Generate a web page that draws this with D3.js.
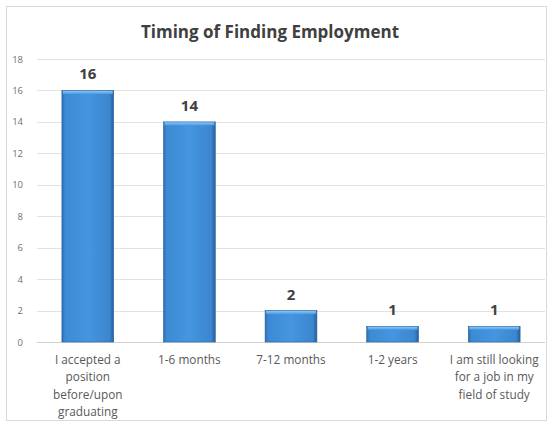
<!DOCTYPE html>
<html>
<head>
<meta charset="utf-8">
<script src="https://cdn.jsdelivr.net/npm/d3@7"></script>
<style>
  body { margin: 0; background: #fff; }
  svg { font-family: "Open Sans", "DejaVu Sans", sans-serif; }
</style>
</head>
<body>
<script>
// chart data
var categories = [
  "I accepted a position before/upon graduating",
  "1-6 months",
  "7-12 months",
  "1-2 years",
  "I am still looking for a job in my field of study"
];
var categoryLines = [
  ["I accepted a", "position", "before/upon", "graduating"],
  ["1-6 months"],
  ["7-12 months"],
  ["1-2 years"],
  ["I am still looking", "for a job in my", "field of study"]
];
var counts = [16, 14, 2, 1, 1];
var yTicks = [0, 2, 4, 6, 8, 10, 12, 14, 16, 18];

var svgWidth = 550, svgHeight = 426;
var margin = {top: 59, right: 5, bottom: 84, left: 37};
var width = svgWidth - margin.left - margin.right,
    height = svgHeight - margin.top - margin.bottom;

var svg = d3.select("body").append("svg")
    .attr("width", svgWidth).attr("height", svgHeight);

// outer frame
svg.append("rect")
    .attr("x", 6.5).attr("y", 6.5)
    .attr("width", 540).attr("height", 414)
    .attr("fill", "#fff").attr("stroke", "#d9d9d9");

// bar gradient
var defs = svg.append("defs");
var grad = defs.append("linearGradient").attr("id", "barGrad")
    .attr("x1", "0%").attr("x2", "100%").attr("y1", "0%").attr("y2", "0%");
grad.append("stop").attr("offset", "0%").attr("stop-color", "#2b6cab");
grad.append("stop").attr("offset", "6%").attr("stop-color", "#3c8ad4");
grad.append("stop").attr("offset", "50%").attr("stop-color", "#4595e0");
grad.append("stop").attr("offset", "92%").attr("stop-color", "#3c86cf");
grad.append("stop").attr("offset", "100%").attr("stop-color", "#255f98");

var topGrad = defs.append("linearGradient").attr("id", "topGrad")
    .attr("x1", "0%").attr("x2", "0%").attr("y1", "0%").attr("y2", "100%");
topGrad.append("stop").attr("offset", "0%").attr("stop-color", "#8cc6f5");
topGrad.append("stop").attr("offset", "100%").attr("stop-color", "#4a9be3");

var chartGroup = svg.append("g")
    .attr("transform", `translate(${margin.left},${margin.top})`);

var xScale = d3.scaleBand().domain(categories).range([0, width]).paddingInner(0.49).paddingOuter(0.245);
var yScale = d3.scaleLinear().domain([0, 18]).range([height, 0]);

// gridlines
chartGroup.selectAll(".grid")
    .data(yTicks)
  .enter().append("line")
    .attr("x1", 0).attr("x2", width)
    .attr("y1", d => Math.round(yScale(d)) + 0.5)
    .attr("y2", d => Math.round(yScale(d)) + 0.5)
    .attr("stroke", d => d === 0 ? "#d0d0d0" : "#e3e3e3");

// y axis labels
var yAxis = d3.axisLeft(yScale).tickValues(yTicks).tickSize(0).tickPadding(14);
var yg = chartGroup.append("g").call(yAxis);
yg.select(".domain").remove();
yg.selectAll("text").attr("fill", "#707070").style("font-size", "9.5px")
    .style("font-family", "'Open Sans', sans-serif");

// bars
var bars = chartGroup.selectAll(".bar")
    .data(counts)
  .enter().append("g").attr("class", "bar");

bars.append("rect")
    .attr("x", (d, i) => xScale(categories[i]))
    .attr("y", d => yScale(d))
    .attr("width", xScale.bandwidth())
    .attr("height", d => height - yScale(d))
    .attr("fill", "url(#barGrad)")
    .attr("stroke", "#2a64a0").attr("stroke-width", 0.6);

bars.append("rect")
    .attr("x", (d, i) => xScale(categories[i]) + 1)
    .attr("y", d => yScale(d) + 0.5)
    .attr("width", xScale.bandwidth() - 2)
    .attr("height", 3)
    .attr("fill", "url(#topGrad)");

// value labels
bars.append("text")
    .attr("x", (d, i) => xScale(categories[i]) + xScale.bandwidth() / 2)
    .attr("y", d => yScale(d) - 11)
    .attr("text-anchor", "middle")
    .attr("fill", "#404040")
    .style("font-size", "15px").style("font-weight", "bold")
    .text(d => d);

// category labels
var catGroup = chartGroup.selectAll(".cat")
    .data(categoryLines)
  .enter().append("text")
    .attr("class", "cat")
    .attr("text-anchor", "middle")
    .attr("fill", "#595959")
    .style("font-size", "11.8px");

catGroup.selectAll("tspan")
    .data((d, i) => d.map(t => ({t: t, i: i})))
  .enter().append("tspan")
    .attr("x", d => xScale(categories[d.i]) + xScale.bandwidth() / 2)
    .attr("y", (d, j) => height + 22 + j * 17.3)
    .text(d => d.t);

// title
svg.append("text")
    .attr("x", 270).attr("y", 38)
    .attr("text-anchor", "middle")
    .attr("fill", "#404040")
    .style("font-size", "17px").style("font-weight", "bold")
    .text("Timing of Finding Employment");
</script>
</body>
</html>
